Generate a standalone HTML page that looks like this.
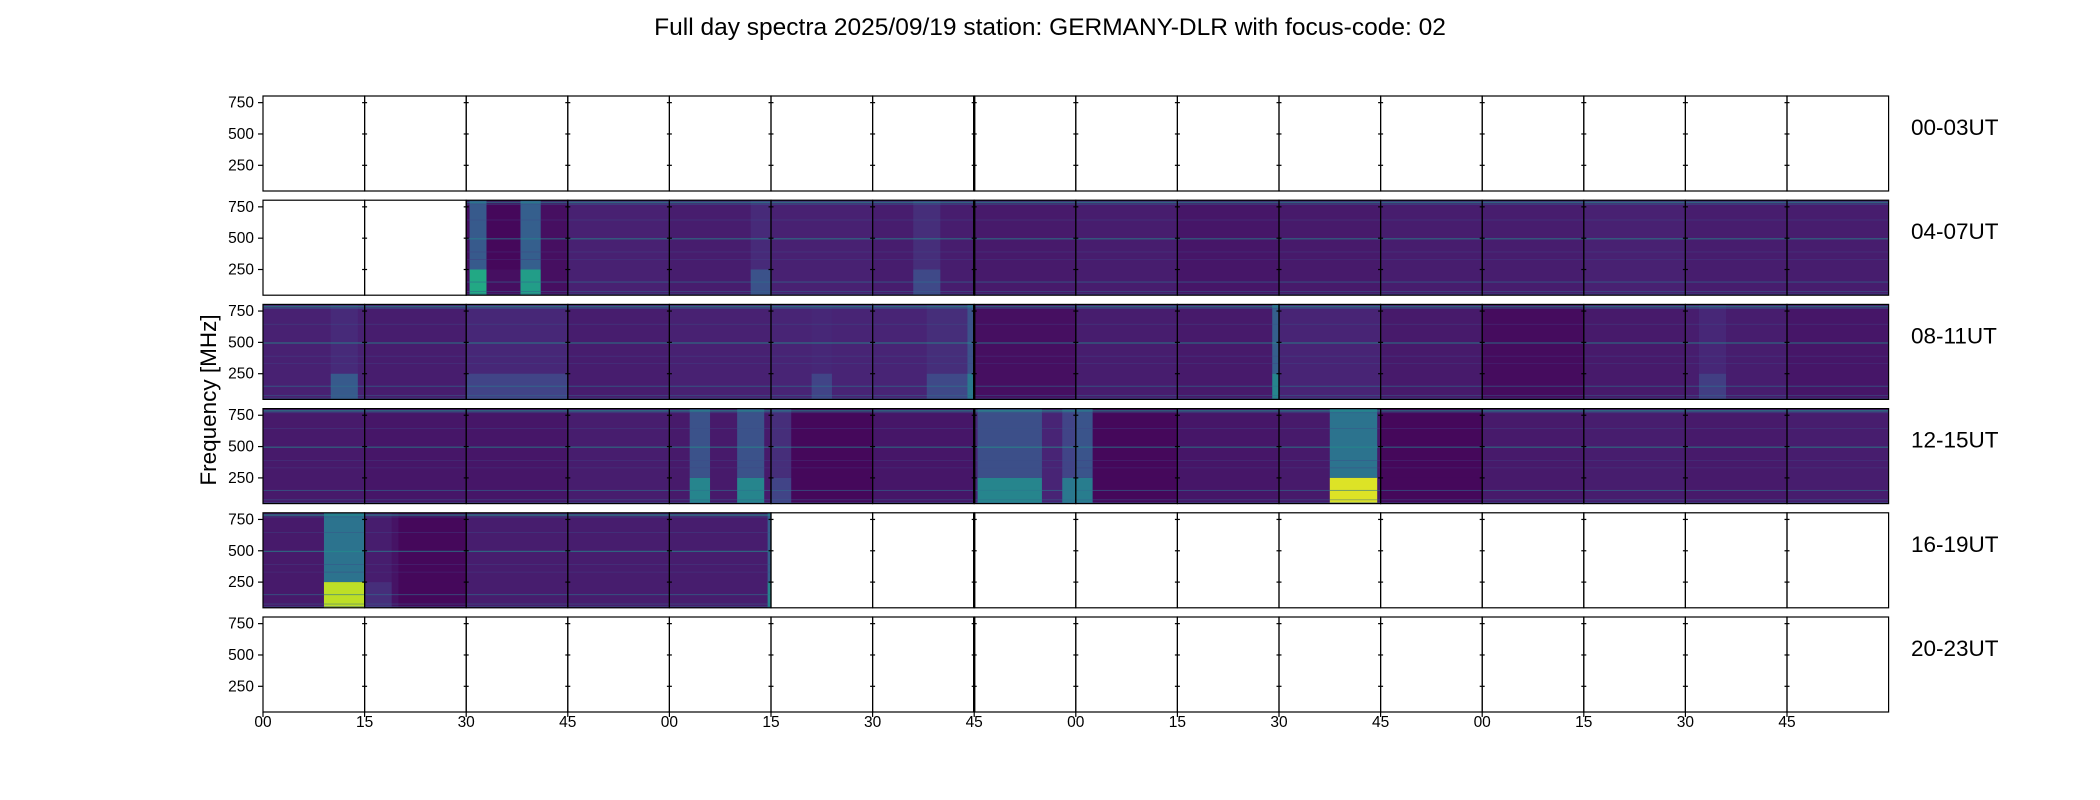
<!DOCTYPE html>
<html><head><meta charset="utf-8">
<style>
html,body{margin:0;padding:0;background:#fff;}
svg{display:block;font-family:"Liberation Sans","DejaVu Sans",sans-serif;}
</style></head>
<body>
<svg id="chart" width="2100" height="800" viewBox="0 0 2100 800" xmlns="http://www.w3.org/2000/svg">
<text x="1050" y="35" font-size="24.5" text-anchor="middle" fill="#000">Full day spectra 2025/09/19 station: GERMANY-DLR with focus-code: 02</text>
<text x="0" y="0" font-size="22.5" text-anchor="middle" fill="#000" transform="translate(216,400) rotate(-90)">Frequency [MHz]</text>
<g id="heat"></g>
<g id="axes"></g>
</svg>
<script>
// ---- data ----
const rowLabels = ["00-03UT","04-07UT","08-11UT","12-15UT","16-19UT","20-23UT"];
const xTickLabels = ["00","15","30","45","00","15","30","45","00","15","30","45","00","15","30","45"];
const yTickValues = [250,500,750];
// base intensity (0..1 viridis) per panel; null = no data
const baseRow0 = [null,null,null,null,null,null,null,null,null,null,null,null,null,null,null,null];
const baseRow1 = [null,null,0.04,0.09,0.08,0.09,0.08,0.07,0.08,0.06,0.07,0.08,0.08,0.09,0.08,0.08];
const baseRow2 = [0.09,0.08,0.10,0.08,0.09,0.10,0.10,0.04,0.08,0.07,0.10,0.07,0.03,0.07,0.08,0.06];
const baseRow3 = [0.07,0.06,0.06,0.08,0.07,0.05,0.06,0.10,0.05,0.06,0.07,0.04,0.07,0.08,0.07,0.08];
const baseRow4 = [0.07,0.05,0.08,0.08,0.08,null,null,null,null,null,null,null,null,null,null,null];
const baseRow5 = [null,null,null,null,null,null,null,null,null,null,null,null,null,null,null,null];
// bursts: [row, panel, startMin, endMin, upperLevel, lowerLevel]
const bursts = [
 [1,2,0.5,3,0.28,0.6],[1,2,8,11,0.3,0.55],[1,2,3,8,0.02,0.04],
 [1,4,12,15,0.12,0.25],[1,6,6,10,0.13,0.22],
 [2,0,10,14,0.12,0.28],[2,2,0,15,0.11,0.2],[2,5,6,9,0.11,0.2],[2,6,8,15,0.13,0.22],[2,6,14,15,0.25,0.4],
 [2,9,14,15,0.3,0.45],[2,14,2,6,0.11,0.18],
 [3,4,3,6,0.25,0.45],[3,4,10,14,0.25,0.45],[3,5,0,3,0.13,0.2],[3,5,3,15,0.02,0.02],
 [3,7,0.5,10,0.24,0.45],[3,7,13,15,0.2,0.4],[3,8,0,2.5,0.26,0.42],[3,8,2.5,15,0.02,0.02],
 [3,10,7.5,14.5,0.38,0.95],[3,11,0,15,0.02,0.02],
 [4,0,9,15,0.38,0.9],[4,1,5,15,0.02,0.02],[4,1,0,4,0.08,0.13],[4,4,14.5,15,0.3,0.45]
];
// persistent interference lines
const lineFreqs = [785,770,645,495,390,330,150,75,55];
const lineLevels = [0.42,0.22,0.16,0.42,0.14,0.12,0.30,0.25,0.22];
const lineWidthsMHz = [14,6,5,10,5,5,8,6,6];

const baseRows = [baseRow0,baseRow1,baseRow2,baseRow3,baseRow4,baseRow5];

// ---- layout / scales ----
const X0 = 263, PW = 101.6, NP = 16, TOP0 = 96, RSTEP = 104.2, RH = 95;
const FMAX = 803, FMIN = 45;
function xPanel(p){ return X0 + p*PW; }
function xMin(p,m){ return xPanel(p) + m/15*PW; }
function yFreq(r,f){ return TOP0 + r*RSTEP + (FMAX-f)/(FMAX-FMIN)*RH; }
function rowTop(r){ return TOP0 + r*RSTEP; }

const vir = [[68,1,84],[72,36,117],[65,68,135],[53,95,141],[42,120,142],[33,145,140],[34,168,132],[68,190,112],[122,209,81],[189,223,38],[253,231,37]];
function viridis(t){
  t=Math.max(0,Math.min(1,t)); const s=t*(vir.length-1); const i=Math.min(vir.length-2,Math.floor(s)); const f=s-i;
  const c=vir[i].map((v,k)=>Math.round(v+(vir[i+1][k]-v)*f));
  return `rgb(${c[0]},${c[1]},${c[2]})`;
}
const NS="http://www.w3.org/2000/svg";
function mk(tag,attrs,parent){ const e=document.createElementNS(NS,tag); for(const k in attrs) e.setAttribute(k,attrs[k]); parent.appendChild(e); return e; }
const heat=document.getElementById('heat'), axes=document.getElementById('axes');

for(let r=0;r<6;r++){
  for(let p=0;p<NP;p++){
    const b=baseRows[r][p]; if(b===null) continue;
    const g=mk('g',{},heat);
    
    
    const rc=mk('rect',{x:xPanel(p),y:rowTop(r),width:PW,height:RH,fill:viridis(b)},g);
    
    
    bursts.filter(u=>u[0]===r&&u[1]===p).forEach(u=>{
      const x=xMin(p,u[2]), w=xMin(p,u[3])-x;
      const up=mk('rect',{x:x,y:rowTop(r),width:w,height:yFreq(r,250)-rowTop(r),fill:viridis(u[4])},g);
      
      
      const lo=mk('rect',{x:x,y:yFreq(r,250),width:w,height:rowTop(r)+RH-yFreq(r,250),fill:viridis(u[5])},g);
      
      
    });
    for(let i=0;i<lineFreqs.length;i++){
      const ln=mk('rect',{x:xPanel(p),y:yFreq(r,lineFreqs[i]+lineWidthsMHz[i]/2),width:PW,height:lineWidthsMHz[i]/(FMAX-FMIN)*RH,fill:viridis(b+lineLevels[i]),opacity:0.6},g);
      
      
    }
  }
}
// axes
for(let r=0;r<6;r++){
  for(let p=0;p<NP;p++){
    const fr=mk('rect',{x:xPanel(p),y:rowTop(r),width:PW,height:RH,fill:'none',stroke:'#000','stroke-width':1.2},axes);
    
    
    if(p>0){
      yTickValues.forEach(v=>{
        const t=mk('line',{x1:xPanel(p)-2.5,x2:xPanel(p)+2.5,y1:yFreq(r,v),y2:yFreq(r,v),stroke:'#000','stroke-width':1.2},axes);
        
        
      });
    }
  }
  const thick=mk('line',{x1:xPanel(7),x2:xPanel(7),y1:rowTop(r),y2:rowTop(r)+RH,stroke:'#000','stroke-width':2.4},axes);
  
  
  yTickValues.forEach(v=>{
    const t=mk('line',{x1:X0-5,x2:X0,y1:yFreq(r,v),y2:yFreq(r,v),stroke:'#000','stroke-width':1.2},axes);
    
    
    const tx=mk('text',{x:X0-9,y:yFreq(r,v)+5,'font-size':15.5,'text-anchor':'end',fill:'#000'},axes);
    tx.textContent=v;
    
    
  });
  const rl=mk('text',{x:1911,y:rowTop(r)+39,'font-size':22.5,fill:'#000'},axes);
  rl.textContent=rowLabels[r];
  
  
}
xTickLabels.forEach((s,p)=>{
  const t=mk('line',{x1:xPanel(p),x2:xPanel(p),y1:rowTop(5)+RH,y2:rowTop(5)+RH+5,stroke:'#000','stroke-width':1.2},axes);
  
  
  const tx=mk('text',{x:xPanel(p),y:727,'font-size':15.5,'text-anchor':'middle',fill:'#000'},axes);
  tx.textContent=s;
  
  
});
</script>
</body></html>
